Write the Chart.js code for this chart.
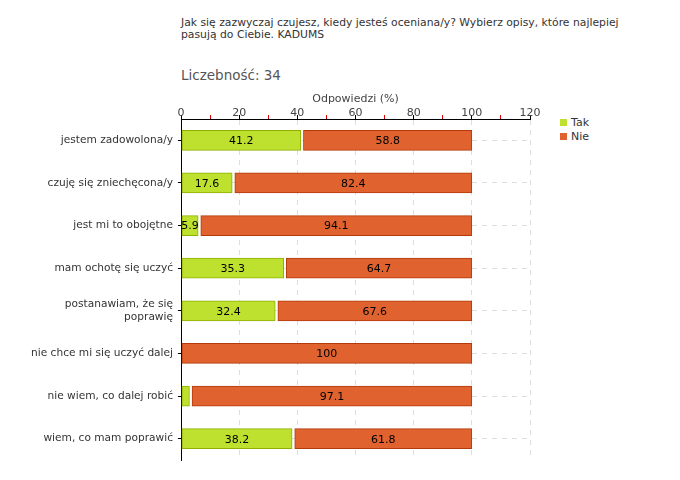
<!DOCTYPE html>
<html lang="pl">
<head>
    <meta charset="UTF-8"/>
    <title>Jak się zazwyczaj czujesz</title>
    <script src="https://cdn.jsdelivr.net/npm/chart.js"></script>
    <style>
        html, body {
            margin: 0;
            padding: 0;
            background: #fff;
            width: 680px;
            height: 480px;
            overflow: hidden;
            font-family: 'DejaVu Sans', sans-serif;
        }
        .wrap { position: relative; width: 680px; height: 480px; }
        .title {
            position: absolute; left: 181px; top: 17px;
            font-size: 10.8px; line-height: 12px; color: #333;
        }
        .count {
            position: absolute; left: 181px; top: 67px;
            font-size: 13.5px; color: #555;
        }
        .legend {
            position: absolute; left: 560px; top: 116px;
            font-size: 11px; color: #333; line-height: 14px;
        }
        .legend span.box {
            display: inline-block; width: 7px; height: 7px; margin-right: 4px;
        }
        canvas#chart { position: absolute; left: 0; top: 0; }
    </style>
</head>
<body>
<div class="wrap">
    <div class="title">Jak się zazwyczaj czujesz, kiedy jesteś oceniana/y? Wybierz opisy, które najlepiej<br>pasują do Ciebie. KADUMS</div>
    <div class="count">Liczebność: 34</div>
    <div class="legend">
        <div><span class="box" style="background:#bee02e"></span>Tak</div>
        <div><span class="box" style="background:#e0622f"></span>Nie</div>
    </div>
    <canvas id="chart" width="680" height="480"></canvas>
</div>

<script>
    const categories = [
        'jestem zadowolona/y',
        'czuję się zniechęcona/y',
        'jest mi to obojętne',
        'mam ochotę się uczyć',
        ['postanawiam, że się', 'poprawię'],
        'nie chce mi się uczyć dalej',
        'nie wiem, co dalej robić',
        'wiem, co mam poprawić'
    ];
    const takValues = [41.2, 17.6, 5.9, 35.3, 32.4, 0, 2.9, 38.2];
    const nieValues = [58.8, 82.4, 94.1, 64.7, 67.6, 100, 97.1, 61.8];
    const xTicks = [0, 20, 40, 60, 80, 100, 120];

    // small white gap between the two segments of a row (in % units)
    const GAP = 0.9;
    const takRanges = takValues.map(v => v > 0 ? [0.3, v] : null);
    const nieRanges = nieValues.map((v, i) => {
        const start = takValues[i] > 0 ? takValues[i] + GAP : 0.3;
        return [start, takValues[i] + v];
    });

    const fontFamily = "'DejaVu Sans', sans-serif";

    const valueLabels = {
        id: 'valueLabels',
        afterDatasetsDraw(chart) {
            const ctx = chart.ctx;
            ctx.save();
            ctx.font = '11px ' + fontFamily;
            ctx.fillStyle = '#000';
            ctx.textAlign = 'center';
            ctx.textBaseline = 'middle';
            const sources = [takValues, nieValues];
            chart.data.datasets.forEach((ds, di) => {
                chart.getDatasetMeta(di).data.forEach((bar, i) => {
                    const v = sources[di][i];
                    if (!v || v < 5) return;
                    ctx.fillText(String(v), (bar.x + bar.base) / 2, bar.y + 1);
                });
            });
            ctx.restore();
        }
    };

    const font = { family: fontFamily, size: 11 };

    new Chart(document.getElementById('chart'), {
        type: 'bar',
        data: {
            labels: categories,
            datasets: [
                {
                    label: 'Tak',
                    data: takRanges,
                    backgroundColor: '#bee02e',
                    borderColor: '#8fb000',
                    borderWidth: 1,
                    borderSkipped: false
                },
                {
                    label: 'Nie',
                    data: nieRanges,
                    backgroundColor: '#e0622f',
                    borderColor: '#b33b0b',
                    borderWidth: 1,
                    borderSkipped: false
                }
            ]
        },
        options: {
            indexAxis: 'y',
            responsive: false,
            animation: false,
            grouped: false,
            barThickness: 20,
            layout: { padding: { left: 0, right: 150, top: 91, bottom: 20 } },
            scales: {
                x: {
                    position: 'top',
                    min: 0,
                    max: 120,
                    afterBuildTicks(scale) {
                        scale.ticks = [];
                        for (let v = 0; v <= 120; v += 10) scale.ticks.push({ value: v });
                    },
                    afterFit(scale) { scale.height = 28; },
                    title: {
                        display: true,
                        text: 'Odpowiedzi (%)',
                        color: '#444',
                        font: font,
                        padding: { top: 2, bottom: 0 }
                    },
                    ticks: {
                        color: '#444',
                        font: font,
                        padding: -5,
                        autoSkip: false,
                        maxRotation: 0,
                        callback: v => xTicks.includes(v) ? String(v) : ''
                    },
                    grid: {
                        color: c => (c.tick && c.tick.value % 20 === 0 && c.tick.value > 0) ? '#dddddd' : 'rgba(0,0,0,0)',
                        tickColor: c => (c.tick && c.tick.value % 20 === 0) ? '#000' : '#e00000',
                        tickLength: 4
                    },
                    border: { color: '#000', width: 1, dash: [5, 5] }
                },
                y: {
                    afterFit(scale) { scale.width = 181; },
                    ticks: {
                        color: '#333',
                        font: { family: fontFamily, size: 10.6 },
                        padding: 5
                    },
                    grid: {
                        offset: false,
                        color: '#dddddd',
                        tickColor: '#000',
                        tickLength: 3
                    },
                    border: { color: '#000', width: 1, dash: [5, 5] }
                }
            },
            plugins: {
                legend: { display: false },
                tooltip: { enabled: false }
            }
        },
        plugins: [valueLabels]
    });
</script>
</body>
</html>
